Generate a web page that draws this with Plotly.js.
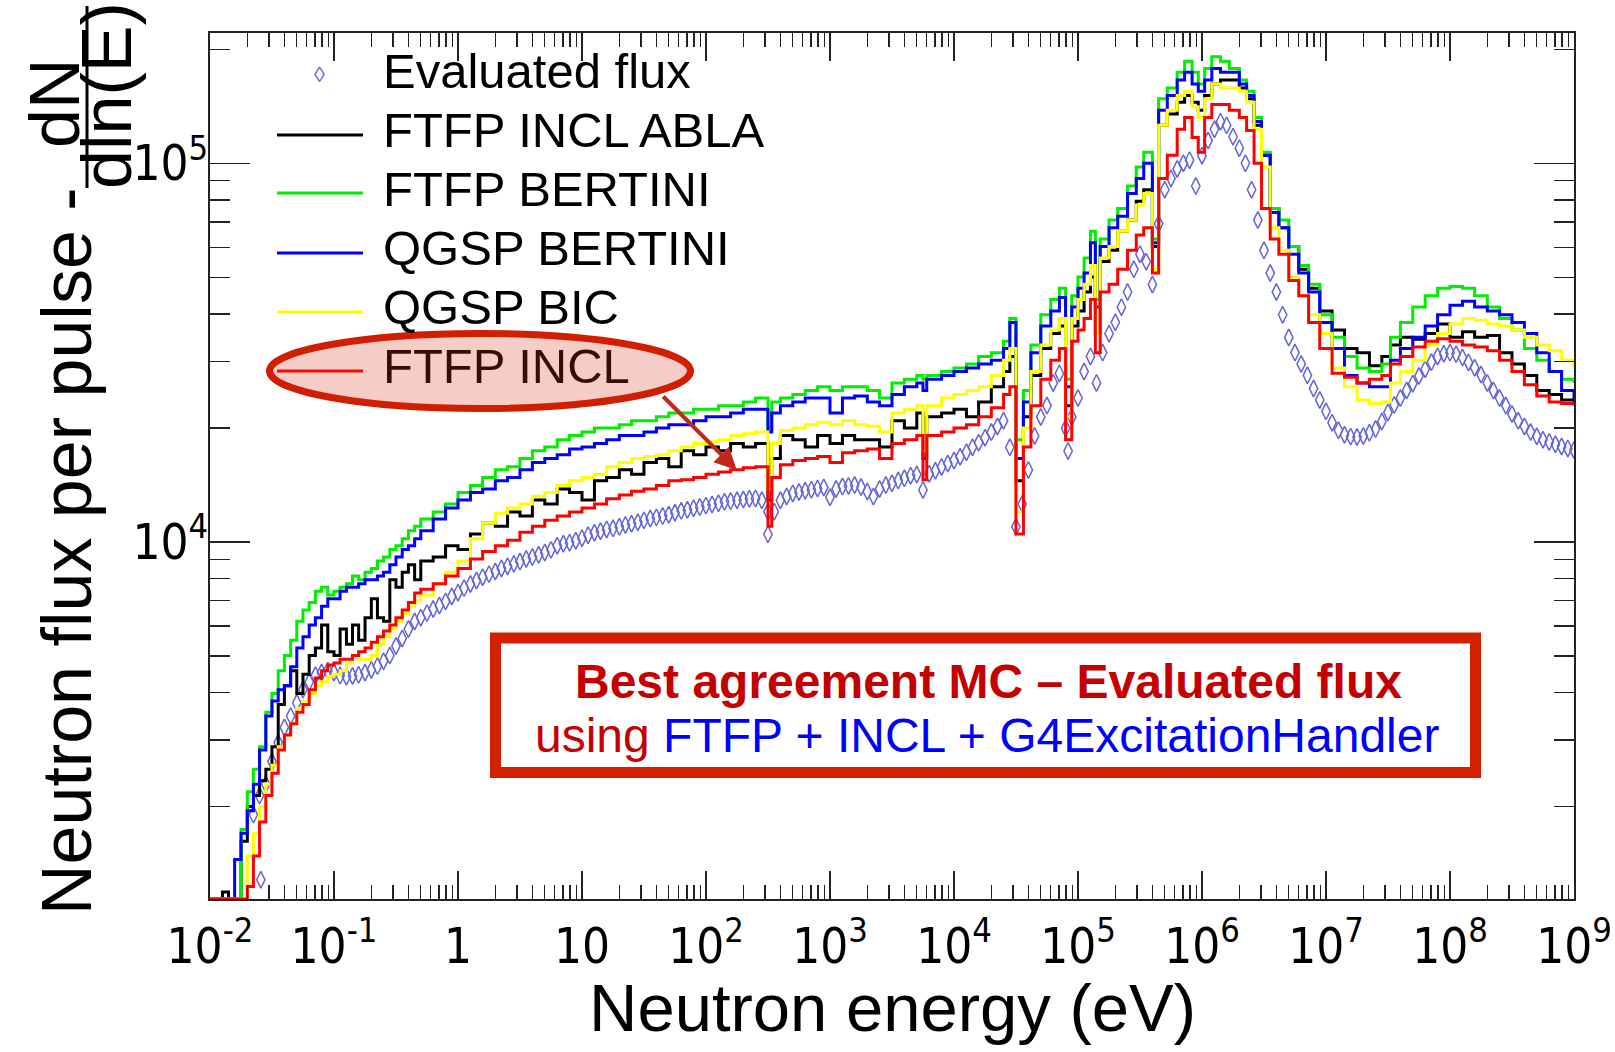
<!DOCTYPE html>
<html>
<head>
<meta charset="utf-8">
<script src="https://cdn.plot.ly/plotly-3.0.1.min.js"></script>
<style>
  html, body { margin: 0; padding: 0; background: #ffffff; }
  #chart { width: 1615px; height: 1052px; }
</style>
</head>
<body>
<div id="chart"></div>
<script>
// ---------------- data ----------------
// Shared bin lower edges (eV) for the Monte-Carlo histograms
const energyBins = [
  0.0100, 0.0126, 0.0141, 0.0158, 0.0178, 0.0200, 0.0224, 0.0251, 0.0282, 0.0316,
  0.0355, 0.0398, 0.0447, 0.0501, 0.0562, 0.0631, 0.0708, 0.0794, 0.0891, 0.100,
  0.112, 0.126, 0.141, 0.158, 0.178, 0.200, 0.224, 0.251, 0.282, 0.316,
  0.355, 0.398, 0.447, 0.501, 0.631, 0.794, 1.00, 1.26, 1.58, 2.00,
  2.51, 3.16, 3.98, 5.01, 6.31, 7.94, 10.0, 12.6, 15.8, 20.0,
  25.1, 31.6, 39.8, 50.1, 63.1, 79.4, 100, 126, 158, 200,
  251, 316, 339, 398, 501, 631, 794, 1000, 1260, 1580,
  2000, 2510, 3160, 3980, 5010, 5620, 6030, 7940, 1.00e4, 1.26e4,
  1.58e4, 2.00e4, 2.51e4, 2.82e4, 3.16e4, 3.63e4, 4.17e4, 5.01e4, 6.03e4, 7.08e4,
  7.94e4, 8.91e4, 1.00e5, 1.12e5, 1.26e5, 1.38e5, 1.51e5, 1.78e5, 2.09e5, 2.51e5,
  2.95e5, 3.39e5, 3.98e5, 4.47e5, 5.25e5, 6.31e5, 7.24e5, 8.32e5, 9.33e5, 1.05e6,
  1.20e6, 1.41e6, 1.66e6, 2.00e6, 2.29e6, 2.63e6, 3.02e6, 3.55e6, 4.17e6, 5.01e6,
  6.03e6, 7.24e6, 8.91e6, 1.12e7, 1.41e7, 1.78e7, 2.24e7, 2.82e7, 3.31e7, 3.98e7,
  5.01e7, 6.31e7, 7.94e7, 1.00e8, 1.26e8, 1.58e8, 2.00e8, 2.51e8, 3.16e8, 3.98e8,
  5.01e8, 6.31e8, 7.94e8, 1.00e9
];

const ftfpInclAbla = [
  1141, 1190, 1141, 1141, 1620, 2000, 2140, 2340, 2510, 2880,
  3720, 4170, 4570, 3980, 4470, 5010, 5250, 6030, 5130, 5010,
  5890, 5370, 6030, 5500, 6310, 7080, 6310, 6170, 7940, 7590,
  8320, 8710, 7940, 8910, 9120, 9770, 9550, 10500, 11200, 11000,
  12000, 11700, 12900, 12600, 13800, 13500, 12900, 14500, 14800, 15500,
  15100, 16200, 16600, 15800, 17400, 17000, 17800, 17400, 18200, 17800,
  18200, 12900, 16600, 19100, 18600, 17800, 19100, 18200, 19100, 18600,
  18600, 17800, 20900, 20000, 21900, 16600, 21400, 21900, 22400, 21400,
  23400, 25700, 28200, 30900, 14500, 21400, 27500, 32400, 35500, 37200,
  22900, 37200, 40700, 45700, 50100, 35500, 55000, 58900, 66100, 70800,
  79400, 85100, 60300, 126000, 135000, 145000, 151000, 145000, 138000, 151000,
  162000, 166000, 166000, 158000, 148000, 126000, 105000, 75900, 67600, 60300,
  52500, 46800, 40700, 36300, 32400, 31600, 29200, 30900, 33100, 34700,
  34300, 35500, 37600, 34700, 35900, 34700, 35100, 31600, 29500, 27500,
  25100, 24500, 23700, 24000
];

const ftfpBertini = [
  1141, 1141, 1141, 1141, 1740, 2190, 2510, 2880, 3550, 3980,
  4570, 5010, 5500, 6170, 6610, 6920, 7410, 7590, 7240, 7410,
  7590, 7760, 8130, 7940, 8320, 8510, 8910, 9120, 9550, 9770,
  10200, 10700, 11000, 11500, 12000, 12600, 13500, 14100, 14800, 15500,
  15800, 16600, 17400, 17800, 18600, 19100, 19500, 20000, 20000, 20400,
  20900, 20900, 21400, 21900, 21900, 22400, 22400, 22900, 22900, 23400,
  24000, 20000, 23400, 24000, 24500, 25100, 25700, 25100, 25700, 25700,
  25100, 24000, 26300, 26900, 27500, 26900, 27500, 28200, 28800, 29500,
  30900, 31600, 33900, 38900, 18600, 25100, 33100, 39800, 43700, 46800,
  26900, 44700, 50100, 56200, 66100, 43700, 63100, 70800, 75900, 87100,
  97700, 107000, 63100, 148000, 158000, 174000, 186000, 174000, 162000, 178000,
  191000, 186000, 178000, 166000, 155000, 132000, 107000, 75900, 70800, 60300,
  53700, 47900, 39800, 34700, 30900, 28800, 28200, 29500, 34700, 38000,
  41700, 44700, 46800, 47300, 46800, 44700, 41700, 38900, 36300, 32400,
  30200, 28200, 26900, 26300
];

const qgspBertini = [
  1141, 1141, 1141, 1450, 1700, 1950, 2290, 2820, 3470, 3800,
  4070, 4170, 4680, 5250, 5620, 6030, 6310, 6760, 7080, 7080,
  7410, 7590, 7590, 7760, 7940, 7940, 8130, 8320, 8710, 9120,
  9550, 9770, 10200, 10700, 11500, 12300, 12900, 13500, 13800, 14500,
  14800, 15500, 16200, 16600, 17000, 17600, 17800, 18200, 18600, 19100,
  19100, 19500, 20000, 20400, 20400, 20900, 21400, 21400, 21900, 22400,
  22400, 19500, 21900, 22900, 23400, 24000, 24000, 21900, 24000, 24300,
  23400, 22900, 24500, 25700, 26300, 25100, 26900, 27500, 28200, 28800,
  29500, 30200, 32400, 38000, 16600, 23400, 31600, 37200, 40700, 44200,
  25700, 41700, 46800, 51300, 61700, 41700, 60300, 67600, 72400, 83200,
  91200, 100000, 61700, 138000, 151000, 166000, 174000, 162000, 155000, 166000,
  178000, 174000, 174000, 162000, 151000, 129000, 105000, 74100, 67600, 57500,
  51300, 45700, 38000, 32400, 27500, 26300, 25700, 25700, 30200, 32400,
  34700, 37200, 39800, 42200, 43200, 41700, 40700, 39800, 38000, 35500,
  31600, 28200, 25100, 22900
];

const qgspBic = [
  1141, 1141, 1141, 1141, 1141, 1480, 1700, 2000, 2290, 2570,
  2880, 3090, 3310, 3630, 3800, 3980, 4170, 4270, 4420, 4470,
  4570, 4790, 5010, 4900, 4900, 5010, 5370, 5620, 5890, 6170,
  6460, 6760, 7000, 7240, 7760, 8320, 8910, 10200, 11200, 11900,
  12300, 12600, 13200, 13500, 14100, 14500, 14800, 15100, 15800, 16200,
  16600, 16800, 17000, 17400, 17800, 18200, 18400, 18600, 19100, 19300,
  19500, 13800, 18200, 19700, 20000, 20400, 20700, 20400, 20900, 20400,
  20200, 19500, 21900, 22400, 22900, 17400, 22900, 24000, 24500, 25100,
  25700, 27500, 30200, 32400, 12000, 20000, 28200, 33100, 36300, 38900,
  21400, 38900, 43700, 47900, 53700, 35500, 56200, 60300, 66100, 70800,
  77600, 83200, 52500, 126000, 138000, 151000, 155000, 141000, 132000, 148000,
  162000, 158000, 158000, 155000, 145000, 123000, 97700, 67600, 58900, 50100,
  44700, 39800, 35500, 28800, 25700, 23700, 23200, 23400, 26300, 28200,
  30200, 33100, 35500, 37600, 38900, 38500, 37600, 37200, 36300, 34700,
  33100, 32000, 30200, 28800
];

const ftfpIncl = [
  1141, 1141, 1141, 1141, 1141, 1230, 1480, 1820, 2140, 2450,
  2820, 3090, 3310, 3550, 3720, 4070, 4370, 4570, 4730, 4790,
  4900, 4900, 5010, 5130, 5250, 5430, 5620, 5820, 6030, 6310,
  6610, 6920, 7330, 7500, 7760, 8130, 8510, 9020, 9440, 9770,
  10100, 10600, 11000, 11400, 11700, 12000, 12300, 12600, 13000, 13300,
  13600, 13800, 14100, 14500, 14600, 14800, 15100, 15300, 15500, 15700,
  15800, 11000, 14800, 16000, 16400, 16600, 16800, 16200, 17200, 17400,
  17600, 16600, 18200, 18600, 19100, 14600, 19100, 19500, 20000, 20400,
  21400, 22600, 24500, 25700, 10500, 17800, 22900, 26900, 30200, 32400,
  18600, 33900, 36300, 38900, 43700, 31600, 45700, 47900, 52500, 58900,
  64600, 67600, 51300, 91200, 105000, 123000, 132000, 117000, 107000, 132000,
  143000, 143000, 138000, 132000, 122000, 100000, 75900, 63100, 57500, 49000,
  44700, 38000, 32400, 27900, 27200, 26300, 26900, 27500, 29500, 30900,
  32700, 33900, 34400, 33900, 33100, 32700, 32000, 30200, 28200, 26000,
  24300, 23400, 23200, 23200
];

// Evaluated flux points
const evalEnergy = [
  2.24e-2, 2.51e-2, 2.57e-2, 2.82e-2, 3.16e-2, 3.55e-2, 3.98e-2, 4.47e-2, 5.01e-2, 5.62e-2,
  6.31e-2, 7.08e-2, 7.94e-2, 8.91e-2, 0.100, 0.112, 0.126, 0.141, 0.158, 0.178,
  0.200, 0.224, 0.251, 0.282, 0.316, 0.355, 0.398, 0.447, 0.501, 0.562,
  0.631, 0.708, 0.794, 0.891, 1.00, 1.12, 1.26, 1.41, 1.58, 1.78,
  2.00, 2.24, 2.51, 2.82, 3.16, 3.55, 3.98, 4.47, 5.01, 5.62,
  6.31, 7.08, 7.94, 8.91, 10.0, 11.2, 12.6, 14.1, 15.8, 17.8,
  20.0, 22.4, 25.1, 28.2, 31.6, 35.5, 39.8, 44.7, 50.1, 56.2,
  63.1, 70.8, 79.4, 89.1, 100, 112, 126, 141, 158, 178,
  200, 224, 251, 282, 316, 316, 355, 398, 447, 501,
  562, 631, 708, 794, 891, 1000, 1120, 1260, 1410, 1580,
  1780, 2000, 2240, 2510, 2820, 3160, 3550, 3980, 4470, 5010,
  5620, 6310, 7080, 7940, 8910, 1.00e4, 1.12e4, 1.26e4, 1.41e4, 1.58e4,
  1.78e4, 2.00e4, 2.24e4, 2.51e4, 2.82e4, 3.16e4, 3.55e4, 3.98e4, 4.47e4, 5.01e4,
  5.62e4, 6.31e4, 7.08e4, 7.94e4, 8.32e4, 8.91e4, 1.00e5, 1.12e5, 1.26e5, 1.41e5,
  1.58e5, 1.78e5, 2.00e5, 2.24e5, 2.51e5, 2.82e5, 3.16e5, 3.55e5, 3.98e5, 4.47e5,
  5.01e5, 5.62e5, 6.31e5, 7.08e5, 7.94e5, 8.91e5, 1.00e6, 1.12e6, 1.26e6, 1.41e6,
  1.58e6, 1.78e6, 2.00e6, 2.24e6, 2.51e6, 2.82e6, 3.16e6, 3.55e6, 3.98e6, 4.47e6,
  5.01e6, 5.62e6, 6.31e6, 7.08e6, 7.94e6, 8.91e6, 1.00e7, 1.12e7, 1.26e7, 1.41e7,
  1.58e7, 1.78e7, 2.00e7, 2.24e7, 2.51e7, 2.82e7, 3.16e7, 3.55e7, 3.98e7, 4.47e7,
  5.01e7, 5.62e7, 6.31e7, 7.08e7, 7.94e7, 8.91e7, 1.00e8, 1.12e8, 1.26e8, 1.41e8,
  1.58e8, 1.78e8, 2.00e8, 2.24e8, 2.51e8, 2.82e8, 3.16e8, 3.55e8, 3.98e8, 4.47e8,
  5.01e8, 5.62e8, 6.31e8, 7.08e8, 7.94e8, 8.91e8, 1.00e9
];
const evalFlux = [
  1905, 2138, 1282, 2291, 2630, 2951, 3236, 3467, 3758, 4074,
  4266, 4446, 4519, 4571, 4519, 4436, 4406, 4426, 4457, 4519,
  4592, 4699, 4842, 5012, 5309, 5559, 5888, 6166, 6310, 6486,
  6653, 6792, 6966, 7178, 7345, 7551, 7745, 7907, 8072, 8222,
  8356, 8511, 8630, 8750, 8872, 9016, 9120, 9247, 9376, 9528,
  9772, 9886, 9954, 10070, 10230, 10420, 10570, 10670, 10790, 10860,
  10960, 11090, 11170, 11270, 11400, 11530, 11610, 11700, 11800, 11940,
  12080, 12160, 12270, 12360, 12470, 12560, 12650, 12760, 12820, 12880,
  12940, 13000, 13030, 12880, 10470, 12020, 12020, 12880, 13180, 13430,
  13550, 13650, 13740, 13840, 13930, 13120, 13800, 14000, 14060, 14130,
  13960, 13580, 13180, 13800, 14130, 14290, 14520, 14720, 14960, 15070,
  13710, 15140, 15420, 15780, 16110, 16410, 16790, 17260, 17780, 18280,
  18840, 19500, 20180, 20890, 17780, 10960, 12590, 15490, 19050, 21380,
  22910, 26300, 27860, 19950, 17380, 21380, 23990, 28180, 30900, 26300,
  31620, 35480, 38020, 41690, 45710, 52480, 57540, 54950, 47860, 69180,
  85110, 91200, 96610, 100000, 101900, 87100, 104700, 114800, 123000, 128800,
  125900, 117500, 109600, 100000, 85110, 70790, 58880, 51290, 45710, 39810,
  34670, 31620, 29510, 27540, 25410, 23710, 22130, 20650, 19720, 19190,
  18970, 18920, 19050, 19410, 19860, 20800, 21980, 23010, 23990, 25120,
  26180, 27420, 28580, 29850, 30900, 31410, 31620, 31330, 30690, 29790,
  28840, 27670, 26300, 25120, 23990, 22910, 21780, 20890, 20180, 19500,
  19010, 18620, 18370, 18110, 17860, 17660, 17500
];

const seriesNames = ['Evaluated flux', 'FTFP INCL ABLA', 'FTFP BERTINI', 'QGSP BERTINI', 'QGSP BIC', 'FTFP INCL'];

// tick labels
const xTickVals = [1e-2, 1e-1, 1, 10, 1e2, 1e3, 1e4, 1e5, 1e6, 1e7, 1e8, 1e9];
const xTickText = ['10<sup>-2</sup>', '10<sup>-1</sup>', '1', '10', '10<sup>2</sup>', '10<sup>3</sup>',
                   '10<sup>4</sup>', '10<sup>5</sup>', '10<sup>6</sup>', '10<sup>7</sup>', '10<sup>8</sup>', '10<sup>9</sup>'];
const yTickVals = [1e4, 1e5];
const yTickText = ['10<sup>4</sup>', '10<sup>5</sup>'];

// ---------------- presentation ----------------
const xMinor = [];
for (let k = -2; k <= 8; k++) for (let m = 2; m <= 9; m++) xMinor.push(m * Math.pow(10, k));
const yMinor = [];
for (let k = 3; k <= 5; k++) for (let m = 2; m <= 9; m++) yMinor.push(m * Math.pow(10, k));

const colors = {
  eval: 'rgb(100,100,218)',
  abla: '#000000',
  ftfpBert: '#00ee00',
  qgspBert: '#0000ff',
  bic: '#ffff00',
  incl: '#ff0000'
};

function stepTrace(y, name, color) {
  return { x: energyBins, y: y, name: name, type: 'scatter', mode: 'lines',
           line: { shape: 'hv', color: color, width: 3 }, hoverinfo: 'x+y+name' };
}

const traces = [
  { x: evalEnergy, y: evalFlux, name: seriesNames[0], type: 'scatter', mode: 'markers',
    marker: { symbol: 'diamond-tall-open', size: 12, color: colors.eval, line: { color: colors.eval, width: 1.5 } } },
  stepTrace(ftfpInclAbla, seriesNames[1], colors.abla),
  stepTrace(ftfpBertini, seriesNames[2], colors.ftfpBert),
  stepTrace(qgspBertini, seriesNames[3], colors.qgspBert),
  stepTrace(qgspBic, seriesNames[4], colors.bic),
  stepTrace(ftfpIncl, seriesNames[5], colors.incl)
];

// pixel -> paper helpers (plot area: x 210..1574, y 33..899)
const PX0 = 210, PW = 1364, PY1 = 899, PH = 866;
const px = v => (v - PX0) / PW;
const py = v => (PY1 - v) / PH;

const baseFont = 'Liberation Sans, Arial, sans-serif';
const legendFont = { family: baseFont, size: 49, color: '#000' };
const legendTextY = [71, 130, 189, 248, 307, 366];
const legendLineY = [135, 193, 253, 312, 371];
const legendLineColors = [colors.abla, colors.ftfpBert, colors.qgspBert, colors.bic, colors.incl];

const shapes = [];
legendLineColors.forEach((c, i) => {
  shapes.push({ type: 'line', xref: 'paper', yref: 'paper', x0: px(277), x1: px(363),
                y0: py(legendLineY[i]), y1: py(legendLineY[i]), line: { color: c, width: 3 } });
});
// fraction bar of dN/dln(E)
shapes.push({ type: 'line', xref: 'paper', yref: 'paper', x0: px(87), x1: px(87), y0: py(6), y1: py(188),
              line: { color: '#000', width: 3 } });
// highlight ellipse
shapes.push({ type: 'circle', xref: 'paper', yref: 'paper', layer: 'above',
              x0: px(269.5), x1: px(690.5), y0: py(408.5), y1: py(333.5),
              fillcolor: 'rgba(215,55,27,0.25)', line: { color: '#d21e00', width: 7 } });
// message box
shapes.push({ type: 'rect', xref: 'paper', yref: 'paper', layer: 'above',
              x0: px(495.5), x1: px(1475.5), y0: py(772.5), y1: py(638),
              fillcolor: '#ffffff', line: { color: '#d42000', width: 11 } });

const annotations = [];
seriesNames.forEach((n, i) => {
  annotations.push({ xref: 'paper', yref: 'paper', x: px(381), y: py(legendTextY[i]), xanchor: 'left', yanchor: 'middle',
                     text: n, showarrow: false,
                     font: Object.assign({}, legendFont, { color: i === 5 ? '#3a0c06' : '#000' }) });
});
// legend marker for evaluated flux
annotations.push({ xref: 'paper', yref: 'paper', x: px(319), y: py(75), xanchor: 'center', yanchor: 'middle',
                   text: '\u25CA', showarrow: false, font: { family: 'Liberation Sans, DejaVu Sans', size: 22, color: colors.eval } });
// y axis title pieces
annotations.push({ xref: 'paper', yref: 'paper', x: px(67), y: py(551), xanchor: 'center', yanchor: 'middle',
                   textangle: -90, text: 'Neutron flux per pulse -', showarrow: false,
                   font: { family: baseFont, size: 70, color: '#000' } });
annotations.push({ xref: 'paper', yref: 'paper', x: px(55), y: py(104), xanchor: 'center', yanchor: 'middle',
                   textangle: -90, text: 'dN', showarrow: false,
                   font: { family: baseFont, size: 70, color: '#000' } });
annotations.push({ xref: 'paper', yref: 'paper', x: px(107), y: py(96), xanchor: 'center', yanchor: 'middle',
                   textangle: -90, text: 'dln(E)', showarrow: false,
                   font: { family: baseFont, size: 70, color: '#000' } });
// x axis title
annotations.push({ xref: 'paper', yref: 'paper', x: 0.5, y: py(1007), xanchor: 'center', yanchor: 'middle',
                   text: 'Neutron energy (eV)', showarrow: false,
                   font: { family: baseFont, size: 67, color: '#000' } });
// arrow from the ellipse to the FTFP INCL curve
annotations.push({ xref: 'paper', yref: 'paper', x: px(736.7), y: py(470), ax: -75, ay: -75,
                   text: '', showarrow: true, arrowhead: 2, arrowsize: 1.1, arrowwidth: 4, arrowcolor: '#c4261a' });
// message text
annotations.push({ xref: 'paper', yref: 'paper', x: px(988), y: py(681), xanchor: 'center', yanchor: 'middle',
                   text: '<b>Best agreement MC \u2013 Evaluated flux</b>', showarrow: false,
                   font: { family: baseFont, size: 48, color: '#c40000' } });
annotations.push({ xref: 'paper', yref: 'paper', x: px(987), y: py(735), xanchor: 'center', yanchor: 'middle',
                   text: '<span style="color:#c40000">using </span><span style="color:#0000ff">FTFP + INCL + G4ExcitationHandler</span>',
                   showarrow: false, font: { family: baseFont, size: 48, color: '#0000ff' } });

const tickFont = { family: 'Liberation Sans Narrow, DejaVu Sans Condensed, Liberation Sans, sans-serif', size: 49, color: '#000' };

const layout = {
  width: 1615, height: 1052,
  margin: { l: 210, r: 41, t: 33, b: 153 },
  paper_bgcolor: '#ffffff', plot_bgcolor: '#ffffff',
  showlegend: false,
  font: { family: baseFont, color: '#000' },
  xaxis: {
    type: 'log', range: [-2, 9], tickmode: 'array', tickvals: xTickVals, ticktext: xTickText,
    ticks: 'inside', ticklen: 28, tickwidth: 1.5, tickcolor: '#222',
    showline: true, linecolor: '#222', linewidth: 2, mirror: 'allticks',
    showgrid: false, zeroline: false, tickfont: tickFont, ticklabelstandoff: 3,
    minor: { ticks: 'inside', ticklen: 14, tickwidth: 1.5, tickcolor: '#222', tickmode: 'array', tickvals: xMinor, showgrid: false },
    title: { text: '' }
  },
  yaxis: {
    type: 'log', range: [3.057, 5.344], tickmode: 'array', tickvals: yTickVals, ticktext: yTickText,
    ticks: 'inside', ticklen: 40, tickwidth: 1.5, tickcolor: '#222',
    showline: true, linecolor: '#222', linewidth: 2, mirror: 'allticks',
    showgrid: false, zeroline: false, tickfont: tickFont, ticklabelstandoff: -10,
    minor: { ticks: 'inside', ticklen: 20, tickwidth: 1.5, tickcolor: '#222', tickmode: 'array', tickvals: yMinor, showgrid: false },
    title: { text: '' }
  },
  shapes: shapes,
  annotations: annotations
};

Plotly.newPlot('chart', traces, layout, { displayModeBar: false, staticPlot: true });
</script>
</body>
</html>
